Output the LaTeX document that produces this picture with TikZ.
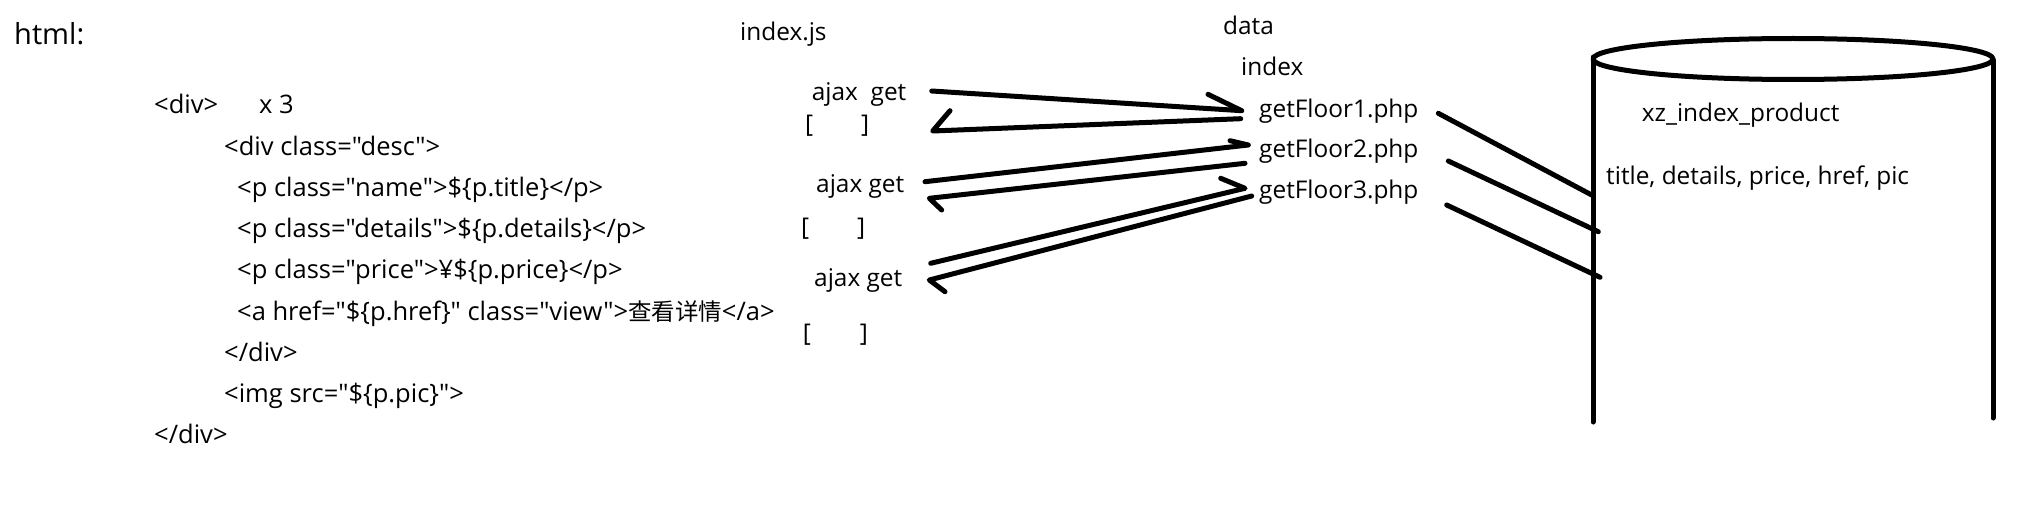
\documentclass[tikz,border=0pt]{standalone}
\usepackage{fontspec}
\setmainfont{Open Sans}[Ligatures=TeXOff]
\newfontfamily\cjkfont[Scale=0.92]{Noto Sans CJK SC}
\begin{document}
\begin{tikzpicture}[x=1pt,y=-1pt,
  txt/.style={inner sep=0pt,anchor=base west,font=\fontsize{24.4}{29}\selectfont},
  codetxt/.style={inner sep=0pt,anchor=base west,font=\fontsize{25.5}{30}\selectfont},
  bigtxt/.style={inner sep=0pt,anchor=base west,font=\fontsize{29}{35}\selectfont},
  stroke/.style={line width=5pt,line cap=round,line join=round}]
\useasboundingbox (0,0) rectangle (2026,524);
% left: html
\node[bigtxt] (html) at (14,45) {html:};
\node[codetxt] (c1) at (154,114) {\makebox[105pt][l]{<div>}x 3};
\node[codetxt] (c2) at (224,155) {<div class="desc">};
\node[codetxt] (c3) at (237,196) {<p class="name">\$\{p.title\}</p>};
\node[codetxt] (c4) at (237,237) {<p class="details">\$\{p.details\}</p>};
\node[codetxt] (c5) at (237,278) {<p class="price">¥\$\{p.price\}</p>};
\node[codetxt] (c6) at (237,320) {<a href="\$\{p.href\}" class="view">{\cjkfont 查看详情}</a>};
\node[codetxt] (c7) at (224,361) {</div>};
\node[codetxt] (c8) at (224,402) {<img src="\$\{p.pic\}">};
\node[codetxt] (c9) at (154,443) {</div>};
% middle: index.js
\node[txt] (js) at (740,40.7) {index.js};
\node[txt] (aj1) at (811.7,100.7) {ajax\ \ get};
\node[txt] (br1) at (805,132) {\makebox[56pt][l]{[}]};
\node[txt] (aj2) at (816,192.7) {ajax get};
\node[txt] (br2) at (801,235) {\makebox[56pt][l]{[}]};
\node[txt] (aj3) at (814,286) {ajax get};
\node[txt] (br3) at (802.7,341) {\makebox[57pt][l]{[}]};
% data/index
\node[txt] (data) at (1223,34.3) {data};
\node[txt] (idx) at (1241,76) {index};
\node[txt] (f1) at (1259,117.3) {getFloor1.php};
\node[txt] (f2) at (1259,157.3) {getFloor2.php};
\node[txt] (f3) at (1259,198.3) {getFloor3.php};
% database
\node[txt] (tbl) at (1641.7,121.7) {xz\_index\_product};
\node[txt] (cols) at (1606,184) {title, details, price, href, pic};
\draw[stroke] (1793,59) ellipse [x radius=200, y radius=20.5];
\coordinate (dbl1) at (1593,57);
\coordinate (dbl2) at (1593,422);
\coordinate (dbr1) at (1993,60);
\coordinate (dbr2) at (1993,418);
\draw[stroke] (dbl1) -- (dbl2);
\draw[stroke] (dbr1) -- (dbr2);
% arrow end points
\coordinate (q1s) at (931.7,91);    \coordinate (q1t) at (1241.7,110.7); \coordinate (q1b) at (1208,94.3);
\coordinate (p1s) at (1240.7,118.7); \coordinate (p1t) at (932.7,131);   \coordinate (p1b) at (950,110.7);
\coordinate (q2s) at (925,181.7);   \coordinate (q2t) at (1248.3,145);   \coordinate (q2b) at (1230,140.7);
\coordinate (p2s) at (1245,163.3);  \coordinate (p2t) at (929.3,198.3);  \coordinate (p2b) at (941.7,210);
\coordinate (q3s) at (930.7,263.3); \coordinate (q3t) at (1245,188.3);   \coordinate (q3b) at (1220.7,178.3);
\coordinate (p3s) at (1251.7,196);  \coordinate (p3t) at (929.3,280);    \coordinate (p3b) at (945,291.7);
\draw[stroke] (q1s) -- (q1t) -- (q1b);
\draw[stroke] (p1s) -- (p1t) -- (p1b);
\draw[stroke] (q2s) -- (q2t) -- (q2b);
\draw[stroke] (p2s) -- (p2t) -- (p2b);
\draw[stroke] (q3s) -- (q3t) -- (q3b);
\draw[stroke] (p3s) -- (p3t) -- (p3b);
% php to database
\coordinate (l1s) at (1438.3,113.3); \coordinate (l1t) at (1591.7,195);
\coordinate (l2s) at (1448.3,161);   \coordinate (l2t) at (1598.3,231.7);
\coordinate (l3s) at (1446.7,205);   \coordinate (l3t) at (1600,277.3);
\draw[stroke] (l1s) -- (l1t);
\draw[stroke] (l2s) -- (l2t);
\draw[stroke] (l3s) -- (l3t);
\end{tikzpicture}
\end{document}
